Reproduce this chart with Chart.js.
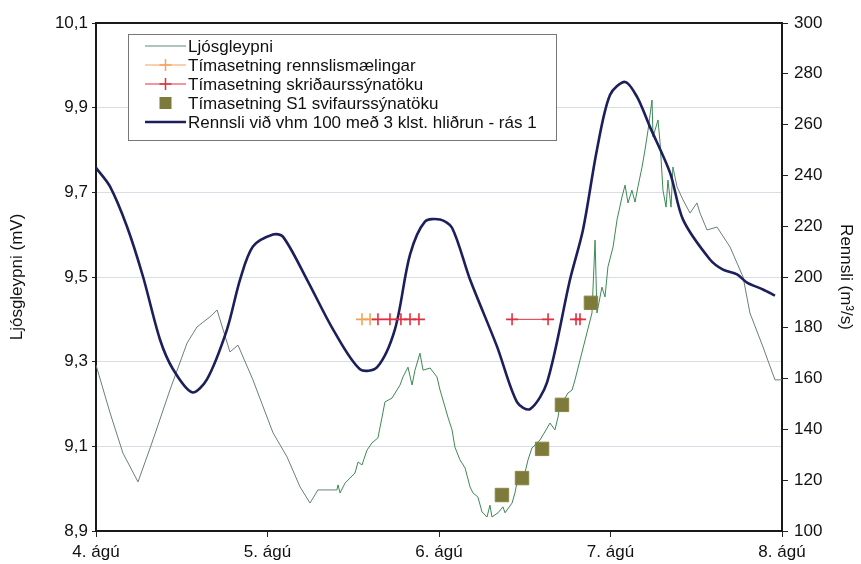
<!DOCTYPE html>
<html>
<head>
<meta charset="utf-8">
<script src="https://cdn.jsdelivr.net/npm/chart.js@4/dist/chart.umd.min.js"></script>
<style>
  html, body { margin: 0; padding: 0; background: #fff; }
  #wrap { width: 861px; height: 564px; position: relative; }
</style>
</head>
<body>
<div id="wrap"><canvas id="chart" width="861" height="564"></canvas></div>
<script>
// x axis: days after 4. ágú 00:00
const dayLabels = ['4. ágú', '5. ágú', '6. ágú', '7. ágú', '8. ágú'];
const leftTickValues = [8.9, 9.1, 9.3, 9.5, 9.7, 9.9, 10.1];
const leftTickLabels = ['8,9', '9,1', '9,3', '9,5', '9,7', '9,9', '10,1'];
const rightTickValues = [100, 120, 140, 160, 180, 200, 220, 240, 260, 280, 300];

// Ljósgleypni (mV)
const ljosDays = [0, 0.082, 0.157, 0.245, 0.332, 0.431, 0.531, 0.589, 0.665, 0.706, 0.781, 0.828, 0.915, 1.032, 1.114, 1.190, 1.248, 1.294, 1.405,
  1.411, 1.423, 1.452, 1.481, 1.510, 1.528, 1.551, 1.580, 1.609, 1.644, 1.668, 1.685, 1.726, 1.773, 1.790, 1.819, 1.843, 1.860, 1.889, 1.907, 1.948, 1.988,
  2.006, 2.035, 2.052, 2.076, 2.093, 2.122, 2.152, 2.181, 2.198, 2.227, 2.251, 2.280, 2.297, 2.309, 2.344, 2.373, 2.385, 2.426, 2.443, 2.461, 2.501, 2.519,
  2.542, 2.571, 2.589, 2.630, 2.647, 2.676, 2.694, 2.706, 2.735, 2.752, 2.776, 2.793, 2.892, 2.910, 2.921, 2.950, 2.968, 2.985, 3.015, 3.038, 3.067, 3.085,
  3.102, 3.125, 3.143, 3.160, 3.184, 3.201, 3.219, 3.242, 3.248, 3.277, 3.289, 3.306, 3.324, 3.335, 3.353, 3.364, 3.388, 3.423, 3.464, 3.504, 3.522,
  3.563, 3.621, 3.697, 3.773, 3.813, 3.889, 3.959, 4.0];
const ljosValues = [9.292, 9.179, 9.084, 9.016, 9.115, 9.233, 9.344, 9.382, 9.406, 9.422, 9.323, 9.339, 9.257, 9.132, 9.075, 9.004, 8.966, 8.997, 8.997,
  9.009, 8.990, 9.013, 9.025, 9.037, 9.063, 9.056, 9.091, 9.108, 9.120, 9.169, 9.205, 9.214, 9.245, 9.264, 9.287, 9.245, 9.280, 9.320, 9.280, 9.285, 9.264,
  9.233, 9.193, 9.169, 9.139, 9.098, 9.068, 9.049, 9.004, 8.990, 8.980, 8.945, 8.933, 8.961, 8.933, 8.943, 8.957, 8.943, 8.966, 8.990, 9.028, 9.037, 9.068,
  9.096, 9.108, 9.115, 9.143, 9.155, 9.139, 9.169, 9.202, 9.214, 9.226, 9.233, 9.257, 9.415, 9.587, 9.415, 9.476, 9.453, 9.524, 9.571, 9.635, 9.689, 9.717,
  9.675, 9.705, 9.677, 9.713, 9.760, 9.800, 9.847, 9.918, 9.831, 9.871, 9.817, 9.705, 9.665, 9.729, 9.665, 9.760, 9.713, 9.682, 9.651, 9.675, 9.651,
  9.611, 9.618, 9.571, 9.500, 9.415, 9.335, 9.257, 9.257];

// Rennsli (m3/s)
const rennsliDays = [0, 0.082, 0.181, 0.274, 0.373, 0.449, 0.560, 0.647, 0.764, 0.840, 0.915, 1.032, 1.090, 1.230, 1.382, 1.539, 1.638, 1.743, 1.831,
  1.918, 2.006, 2.076, 2.181, 2.338, 2.455, 2.531, 2.630, 2.764, 2.840, 2.921, 2.997, 3.085, 3.155, 3.230, 3.347, 3.423, 3.580, 3.656, 3.738, 3.796, 3.889, 3.959];
const rennsliValues = [243, 235.6, 219.8, 200.2, 175.4, 163.7, 154.6, 159.7, 179.4, 199, 212, 216.7, 215.9, 199, 179.4, 163.7, 164.4, 179.4, 208.8,
  221.8, 222.6, 219.4, 199, 172.7, 150.7, 148, 158.5, 199, 218.7, 250.1, 271.7, 276.8, 270.9, 259.1, 241.1, 222.6, 206.9, 202.9, 201, 197.8, 195.1, 192.7];

// Tímasetningar (null = rof í línu)
const rennslisDays = [1.551, 1.598];
const rennslisValues = [9.4, 9.4];
const skridDays = [1.644, 1.714, 1.778, 1.831, 1.883, 2.1, 2.426, 2.636, 2.7, 2.799, 2.822];
const skridValues = [9.4, 9.4, 9.4, 9.4, 9.4, null, 9.4, 9.4, null, 9.4, 9.4];
const svifDays = [2.367, 2.484, 2.601, 2.717, 2.886];
const svifValues = [8.985, 9.025, 9.094, 9.198, 9.439];

const toPoints = (xs, ys) => xs.map((x, i) => ({ x: x, y: ys[i] }));

const GREY_LINE = '#6b7f78';
const GREEN_LINE = '#3d8a55';
const NAVY = '#1c1f5c';
const FONT = "'Liberation Sans', Arial, sans-serif";

// white background + frame on top
const framePlugin = {
    id: 'frame',
    beforeDraw(chart) {
        const ctx = chart.ctx;
        ctx.save();
        ctx.fillStyle = '#fff';
        ctx.fillRect(0, 0, chart.width, chart.height);
        ctx.restore();
    },
    afterDatasetsDraw(chart) {
        const a = chart.chartArea;
        const ctx = chart.ctx;
        ctx.save();
        ctx.strokeStyle = '#1a1a1a';
        ctx.lineWidth = 2;
        ctx.beginPath();
        ctx.moveTo(a.left, a.top);
        ctx.lineTo(a.right, a.top);
        ctx.stroke();
        ctx.restore();
    }
};

// legend box inside the plot
const boxLegend = {
    id: 'boxLegend',
    afterDraw(chart) {
        const ctx = chart.ctx;
        const bx = 128, by = 34, bw = 428, bh = 106;
        ctx.save();
        ctx.fillStyle = '#fff';
        ctx.fillRect(bx, by, bw, bh);
        ctx.strokeStyle = '#777';
        ctx.lineWidth = 1;
        ctx.strokeRect(bx + 0.5, by + 0.5, bw, bh);
        ctx.font = '17px ' + FONT;
        ctx.textBaseline = 'middle';
        const order = [0, 2, 3, 4, 1];
        order.forEach((di, row) => {
            const ds = chart.data.datasets[di];
            const y = 46 + row * 19;
            const x0 = 145, x1 = 186, xm = (x0 + x1) / 2;
            if (ds.legendKind === 'line' || ds.legendKind === 'cross') {
                ctx.strokeStyle = ds.legendLine;
                ctx.lineWidth = ds.legendKind === 'line' && di === 1 ? 2.5 : 1;
                ctx.beginPath();
                ctx.moveTo(x0, y);
                ctx.lineTo(x1, y);
                ctx.stroke();
            }
            if (ds.legendKind === 'cross') {
                ctx.strokeStyle = ds.pointBorderColor;
                ctx.lineWidth = 1.5;
                ctx.beginPath();
                ctx.moveTo(xm - 6, y);
                ctx.lineTo(xm + 6, y);
                ctx.moveTo(xm, y - 6);
                ctx.lineTo(xm, y + 6);
                ctx.stroke();
            }
            if (ds.legendKind === 'square') {
                ctx.fillStyle = ds.backgroundColor;
                ctx.fillRect(xm - 6, y - 6, 12, 12);
            }
            ctx.fillStyle = '#111';
            ctx.fillText(ds.label, 188, y + 1);
        });
        ctx.restore();
    }
};

new Chart(document.getElementById('chart'), {
    type: 'line',
    data: {
        datasets: [
            {
                label: 'Ljósgleypni',
                data: toPoints(ljosDays, ljosValues),
                yAxisID: 'yL',
                borderColor: GREY_LINE,
                borderWidth: 1,
                pointRadius: 0,
                tension: 0,
                segment: {
                    borderColor: c => (c.p0.parsed.x >= 1.40 && c.p1.parsed.x <= 3.37) ? GREEN_LINE : GREY_LINE
                },
                legendKind: 'line',
                legendLine: '#5f8a78',
                order: 4
            },
            {
                label: 'Rennsli við vhm 100 með 3 klst. hliðrun - rás 1',
                data: toPoints(rennsliDays, rennsliValues),
                yAxisID: 'yR',
                borderColor: NAVY,
                borderWidth: 2.6,
                pointRadius: 0,
                tension: 0.3,
                legendKind: 'line',
                legendLine: NAVY,
                order: 3
            },
            {
                label: 'Tímasetning rennslismælingar',
                data: toPoints(rennslisDays, rennslisValues),
                yAxisID: 'yL',
                borderColor: '#f2a35a',
                borderWidth: 1,
                pointStyle: 'cross',
                pointRadius: 6,
                pointBorderWidth: 1.6,
                pointBorderColor: '#f2a35a',
                legendKind: 'cross',
                legendLine: '#f2a35a',
                order: 2
            },
            {
                label: 'Tímasetning skriðaurssýnatöku',
                data: toPoints(skridDays, skridValues),
                yAxisID: 'yL',
                borderColor: '#e0303f',
                borderWidth: 1,
                spanGaps: false,
                pointStyle: 'cross',
                pointRadius: 6,
                pointBorderWidth: 1.6,
                pointBorderColor: '#e0303f',
                legendKind: 'cross',
                legendLine: '#e0303f',
                order: 1
            },
            {
                label: 'Tímasetning S1 svifaurssýnatöku',
                data: toPoints(svifDays, svifValues),
                yAxisID: 'yL',
                showLine: false,
                pointStyle: 'rect',
                pointRadius: 9.5,
                backgroundColor: '#7d7a3c',
                pointBackgroundColor: '#7d7a3c',
                pointBorderColor: '#8a8646',
                pointBorderWidth: 1,
                legendKind: 'square',
                order: 0
            }
        ]
    },
    options: {
        responsive: false,
        animation: false,
        layout: { padding: { top: 23, left: 0, right: 0, bottom: 0 } },
        plugins: {
            legend: { display: false },
            tooltip: { enabled: false }
        },
        scales: {
            x: {
                type: 'linear',
                min: 0,
                max: 4,
                afterFit: s => { s.height = 33; },
                afterBuildTicks: s => { s.ticks = dayLabels.map((l, i) => ({ value: i })); },
                ticks: {
                    autoSkip: false,
                    maxRotation: 0,
                    padding: 5,
                    color: '#111',
                    font: { family: FONT, size: 17 },
                    callback: v => dayLabels[v]
                },
                grid: { drawOnChartArea: false, tickLength: 6, tickColor: '#222' },
                border: { color: '#1a1a1a', width: 2 }
            },
            yL: {
                position: 'left',
                min: 8.9,
                max: 10.1,
                afterFit: s => { s.width = 96; },
                afterBuildTicks: s => { s.ticks = leftTickValues.map(v => ({ value: v })); },
                ticks: {
                    padding: 4,
                    color: '#111',
                    font: { family: FONT, size: 17 },
                    callback: (v, i) => leftTickLabels[i]
                },
                grid: { color: 'rgba(170,180,200,0.45)', tickLength: 4, tickColor: '#222', lineWidth: 1 },
                border: { color: '#1a1a1a', width: 2 },
                title: {
                    display: true,
                    text: 'Ljósgleypni (mV)',
                    color: '#111',
                    font: { family: FONT, size: 17 },
                    padding: { top: 7, bottom: 0 }
                }
            },
            yR: {
                position: 'right',
                min: 100,
                max: 300,
                afterFit: s => { s.width = 79; },
                afterBuildTicks: s => { s.ticks = rightTickValues.map(v => ({ value: v })); },
                ticks: {
                    padding: 6,
                    color: '#111',
                    font: { family: FONT, size: 17 },
                    callback: v => String(v)
                },
                grid: { drawOnChartArea: false, tickLength: 6, tickColor: '#222' },
                border: { color: '#1a1a1a', width: 2 },
                title: {
                    display: true,
                    text: 'Rennsli (m³/s)',
                    color: '#111',
                    font: { family: FONT, size: 17 },
                    padding: { top: 5, bottom: 0 }
                }
            }
        }
    },
    plugins: [framePlugin, boxLegend]
});
</script>
</body>
</html>
